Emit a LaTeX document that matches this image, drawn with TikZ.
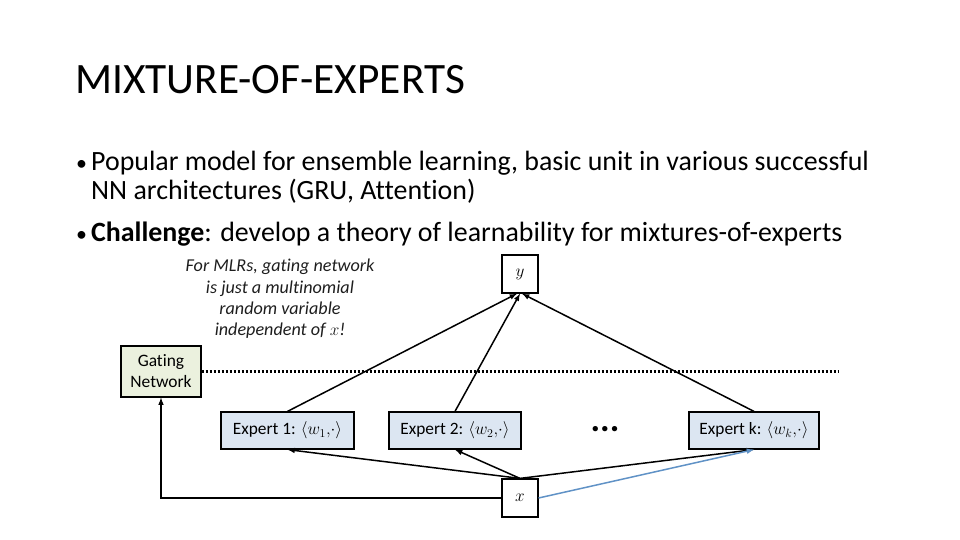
\documentclass[tikz,border=0pt]{standalone}
\usepackage{amsmath}
\usepackage{amssymb}
\usepackage{fontspec}
\setmainfont{Carlito}[Ligatures=NoCommon]
\usepackage{tikz}
\usetikzlibrary{arrows,shapes}
\definecolor{gatefill}{RGB}{235,241,222}
\definecolor{expfill}{RGB}{220,230,242}
\definecolor{bluearrow}{RGB}{96,146,198}
\definecolor{notegray}{RGB}{30,30,30}
\newcommand{\expt}[2]{Expert #1: $\langle w_{#2}{,}\cdot\rangle$}

\begin{document}
\begin{tikzpicture}[>=latex]
      \tikzstyle{every node}=[font=\fontsize{17.4}{20}\selectfont]
      \tikzstyle{varbox}=[draw, line width=1.2bp, fill=white, minimum width=36bp, minimum height=38bp, inner sep=0pt]
      \tikzstyle{expbox}=[draw, line width=1.2bp, fill=expfill, minimum height=37bp, inner sep=0pt]
      \tikzstyle{bullettext}=[anchor=base west, inner sep=0pt, font=\fontsize{28}{33}\selectfont]
      \tikzstyle{conn}=[->, line width=1.5bp]
      \useasboundingbox (0bp,0bp) rectangle (960bp,540bp);
      %%
  \node (title) at (75bp,446bp) [anchor=base west, inner sep=0pt, font=\fontsize{43.5}{50}\selectfont] {MIXTURE-OF-EXPERTS};
  \node (b1) at (76bp,369bp) [bullettext] {\makebox[15bp][l]{\fontsize{22}{22}\selectfont•}Popular model for ensemble learning, basic unit in various successful};
  \node (b1b) at (91bp,340bp) [bullettext] {NN architectures (GRU, Attention)};
  \node (b2) at (76bp,298bp) [bullettext] {\makebox[15bp][l]{\fontsize{22}{22}\selectfont•}\textbf{Challenge}: develop a theory of learnability for mixtures-of-experts};
  \node (note) at (280bp,241bp) [align=center, text=notegray, font=\fontsize{18.2}{21.5}\selectfont\itshape] {For MLRs, gating network\\is just a multinomial\\random variable\\independent of $x$!};
  \node (y) at (520bp,266bp) [varbox] {$y$};
  \node (x) at (520bp,42bp) [varbox] {$x$};
  \node (gate) at (161bp,168.5bp) [draw, line width=1.2bp, fill=gatefill, minimum width=80bp, minimum height=51bp, inner sep=0pt, align=center, font=\fontsize{17.5}{21}\selectfont] {Gating\\Network};
  \node (exp1) at (287.5bp,109.5bp) [expbox, minimum width=133bp] {\expt{1}{1}};
  \node (exp2) at (455bp,109.5bp) [expbox, minimum width=132bp] {\expt{2}{2}};
  \node (expk) at (754bp,109.5bp) [expbox, minimum width=130bp] {\expt{k}{k}};
  \node (dots) at (605bp,111bp) [font=\fontsize{36}{36}\selectfont\bfseries] {...};
  \coordinate (gend) at (838bp,168.5bp);
  \draw [line width=3bp, dash pattern=on 2.5bp off 1.5bp] (gate.east) -- (gend);
  \draw [conn] (exp1.north) -- ([xshift=-3bp]y.south);
  \draw [conn] (exp2.north) -- (y.south);
  \draw [conn] (expk.north) -- ([xshift=2bp]y.south);
  \draw [conn] (x.north) -- (exp1.south);
  \draw [conn] (x.north) -- (exp2.south);
  \draw [conn] (x.north) -- (expk.south);
  \draw [conn] (x.west) -| (gate.south);
  \draw [conn, color=bluearrow] (x.east) -- (expk.south);
%
    \end{tikzpicture}
\end{document}
